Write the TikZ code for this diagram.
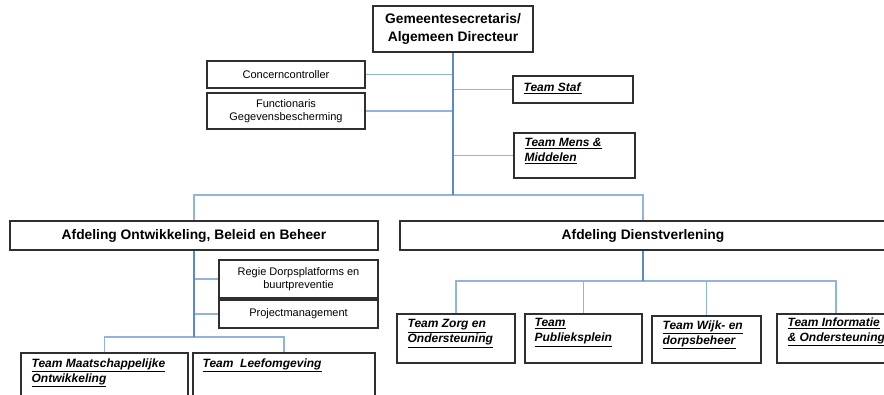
\documentclass[tikz,border=0pt]{standalone}
\usepackage{fontspec}
\setmainfont{Liberation Sans}
\usetikzlibrary{shadows,backgrounds}
\definecolor{boxc}{HTML}{2F2F2F}
\definecolor{trunkc}{HTML}{5B8ACB}
\definecolor{branchc}{HTML}{8EB4E3}
\newcommand{\tu}[1]{\underline{\textbf{\textit{#1}}}}
\tikzset{
  box/.style={draw=boxc, line width=1.1pt, fill=white, inner sep=0pt,
    drop shadow={shadow xshift=1.3pt, shadow yshift=-1.3pt, fill=black!45, opacity=.6}},
  bigtext/.style={font=\fontsize{13.8}{17.5}\selectfont\bfseries, align=center},
  smalltext/.style={font=\fontsize{11}{13}\selectfont, align=center},
  teamtext/.style={font=\fontsize{12}{15}\selectfont, align=left, anchor=north west, inner sep=0pt},
  trunk/.style={draw=trunkc, line width=2pt},
  branch/.style={draw=branchc, line width=1.7pt},
}
\begin{document}
\begin{tikzpicture}[x=1pt,y=-1pt]
\useasboundingbox (0,0) rectangle (884,394);
\clip (0,0) rectangle (884,394);
% coordinates
\coordinate (j1) at (453,195);
\coordinate (j2) at (194,337);
\coordinate (j3) at (643,281);
% top level boxes
\node[box, minimum width=160pt, minimum height=46pt, bigtext] (top) at (453,29) {Gemeentesecretaris/\\Algemeen Directeur};
\node[box, minimum width=158pt, minimum height=27pt, smalltext] (cc) at (286,74.5) {Concerncontroller};
\node[box, minimum width=158pt, minimum height=36pt, smalltext] (fg) at (286,111) {Functionaris\\Gegevensbescherming};
\node[box, minimum width=120pt, minimum height=27pt] (staf) at (573,89.5) {};
\node[box, minimum width=121pt, minimum height=45pt] (mens) at (574.5,155.5) {};
% departments
\node[box, minimum width=368pt, minimum height=29pt, bigtext] (obb) at (194,235.5) {Afdeling Ontwikkeling, Beleid en Beheer};
\node[box, minimum width=486pt, minimum height=29pt, bigtext] (dv) at (643,235.5) {Afdeling Dienstverlening};
% obb children
\node[box, minimum width=159pt, minimum height=38pt, smalltext] (regie) at (298.5,279) {Regie Dorpsplatforms en\\buurtpreventie};
\node[box, minimum width=159pt, minimum height=28pt, smalltext] (pm) at (298.5,314) {Projectmanagement};
\node[box, minimum width=167pt, minimum height=70pt] (maat) at (104.5,388) {};
\node[box, minimum width=182pt, minimum height=70pt] (leef) at (284,388) {};
% dv children
\node[box, minimum width=118pt, minimum height=49pt] (zorg) at (456,338.5) {};
\node[box, minimum width=117pt, minimum height=49pt] (publ) at (583.5,338.5) {};
\node[box, minimum width=109pt, minimum height=47pt] (wijk) at (706.5,339.5) {};
\node[box, minimum width=118pt, minimum height=49pt] (info) at (836,338.5) {};
% team texts
\node[teamtext] at ([shift={(11,7)}]staf.north west) {\tu{Team Staf}};
\node[teamtext] at ([shift={(11,6)}]mens.north west) {\tu{Team Mens \&}\\\tu{Middelen}};
\node[teamtext] at ([shift={(11,6)}]maat.north west) {\tu{Team Maatschappelijke}\\\tu{Ontwikkeling}};
\node[teamtext] at ([shift={(10,6)}]leef.north west) {\tu{Team\ \ Leefomgeving}};
\node[teamtext] at ([shift={(11,6)}]zorg.north west) {\tu{Team Zorg en}\\\tu{Ondersteuning}};
\node[teamtext] at ([shift={(10,5)}]publ.north west) {\tu{Team}\\\tu{Publieksplein}};
\node[teamtext] at ([shift={(11,5)}]wijk.north west) {\tu{Team Wijk- en}\\\tu{dorpsbeheer}};
\node[teamtext] at ([shift={(11,4)}]info.north west) {\tu{Team Informatie}\\\tu{\& Ondersteuning}};
% connectors
\begin{scope}[on background layer]
\draw[branch] (cc.east) -- (cc.east -| top.south);
\draw[branch] (fg.east) -- (fg.east -| top.south);
\draw[branch] (staf.west) -- (staf.west -| top.south);
\draw[branch] (mens.west) -- (mens.west -| top.south);
\draw[branch] (obb.north) |- (j1) -| (dv.north);
\draw[trunk] (top.south) -- (j1);
\draw[branch] (regie.west) -- (regie.west -| obb.south);
\draw[branch] (pm.west) -- (pm.west -| obb.south);
\draw[branch] (maat.north) |- (j2) -| (leef.north);
\draw[trunk] (obb.south) -- (j2);
\draw[branch] (zorg.north) |- (j3) -| (info.north);
\draw[branch] (publ.north) |- (j3);
\draw[branch] (wijk.north) |- (j3);
\draw[trunk] (dv.south) -- (j3);
\end{scope}
\end{tikzpicture}
\end{document}
